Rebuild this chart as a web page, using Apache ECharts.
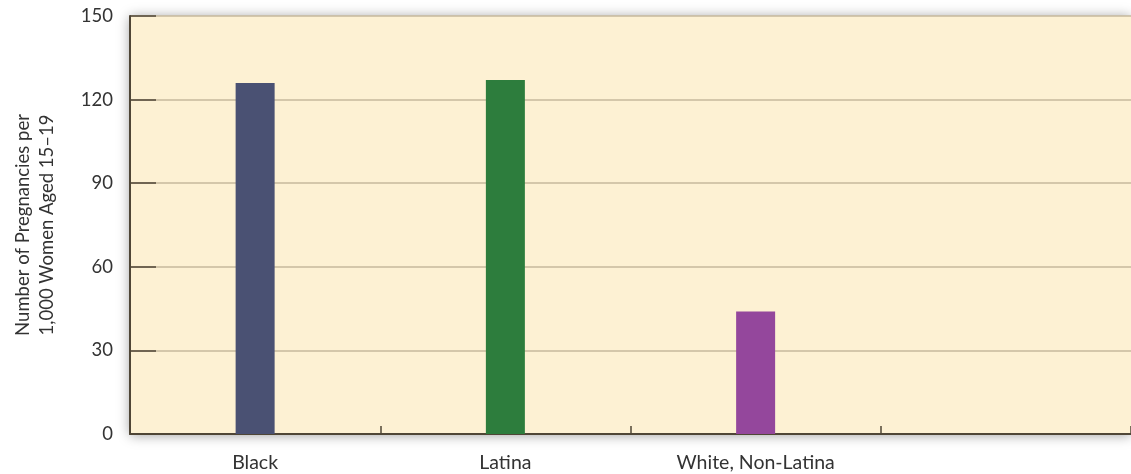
<!DOCTYPE html>
<html>
<head>
<meta charset="utf-8">
<script src="https://cdn.jsdelivr.net/npm/echarts@6/dist/echarts.min.js"></script>
<style>
html,body{margin:0;padding:0;background:#ffffff;}
#chart{width:1131px;height:474px;}
</style>
</head>
<body>
<div id="chart"></div>
<script>
const categories = ['Black', 'Latina', 'White, Non-Latina', ''];
const rates = [126, 127, 44, null];
const barColors = ['#4a5173', '#2d7d3d', '#94479c', '#999999'];
const yTicks = [0, 30, 60, 90, 120, 150];
const yTitle = 'Number of Pregnancies per\n1,000 Women Aged 15\u201319';

const chart = echarts.init(document.getElementById('chart'), null, {renderer: 'canvas'});
const font = 'Lato, "Open Sans", sans-serif';
chart.setOption({
  animation: false,
  backgroundColor: '#ffffff',
  grid: {
    left: 130, right: 0, top: 16, bottom: 40,
    outerBoundsMode: 'none',
    containLabel: false,
    show: true,
    backgroundColor: '#fdf1d3',
    borderWidth: 0,
    shadowBlur: 12,
    shadowColor: 'rgba(0,0,0,0.4)',
    shadowOffsetY: 1
  },
  xAxis: {
    type: 'category',
    data: categories,
    boundaryGap: true,
    axisLine: {show: true, lineStyle: {color: '#4f4636', width: 2}},
    axisTick: {show: true, inside: true, length: 8, lineStyle: {color: '#4f4636', width: 1.5}},
    axisLabel: {color: '#333333', fontFamily: font, fontSize: 19.5, margin: 19}
  },
  yAxis: {
    type: 'value',
    min: yTicks[0],
    max: yTicks[yTicks.length - 1],
    interval: 30,
    name: yTitle,
    nameLocation: 'middle',
    nameRotate: 90,
    nameGap: 71,
    nameTextStyle: {color: '#333333', fontFamily: font, fontSize: 18.5, lineHeight: 24},
    axisLine: {show: true, lineStyle: {color: '#4f4636', width: 2}},
    axisTick: {show: true, inside: true, length: 26, lineStyle: {color: '#4f4636', width: 1.5}},
    axisLabel: {color: '#333333', fontFamily: font, fontSize: 18.5, margin: 17},
    splitLine: {show: true, lineStyle: {color: '#c6b99d', width: 1.5}}
  },
  series: [{
    type: 'bar',
    data: rates.map((v, i) => ({value: v, itemStyle: {color: barColors[i]}})),
    barWidth: 39
  }]
});
</script>
</body>
</html>
